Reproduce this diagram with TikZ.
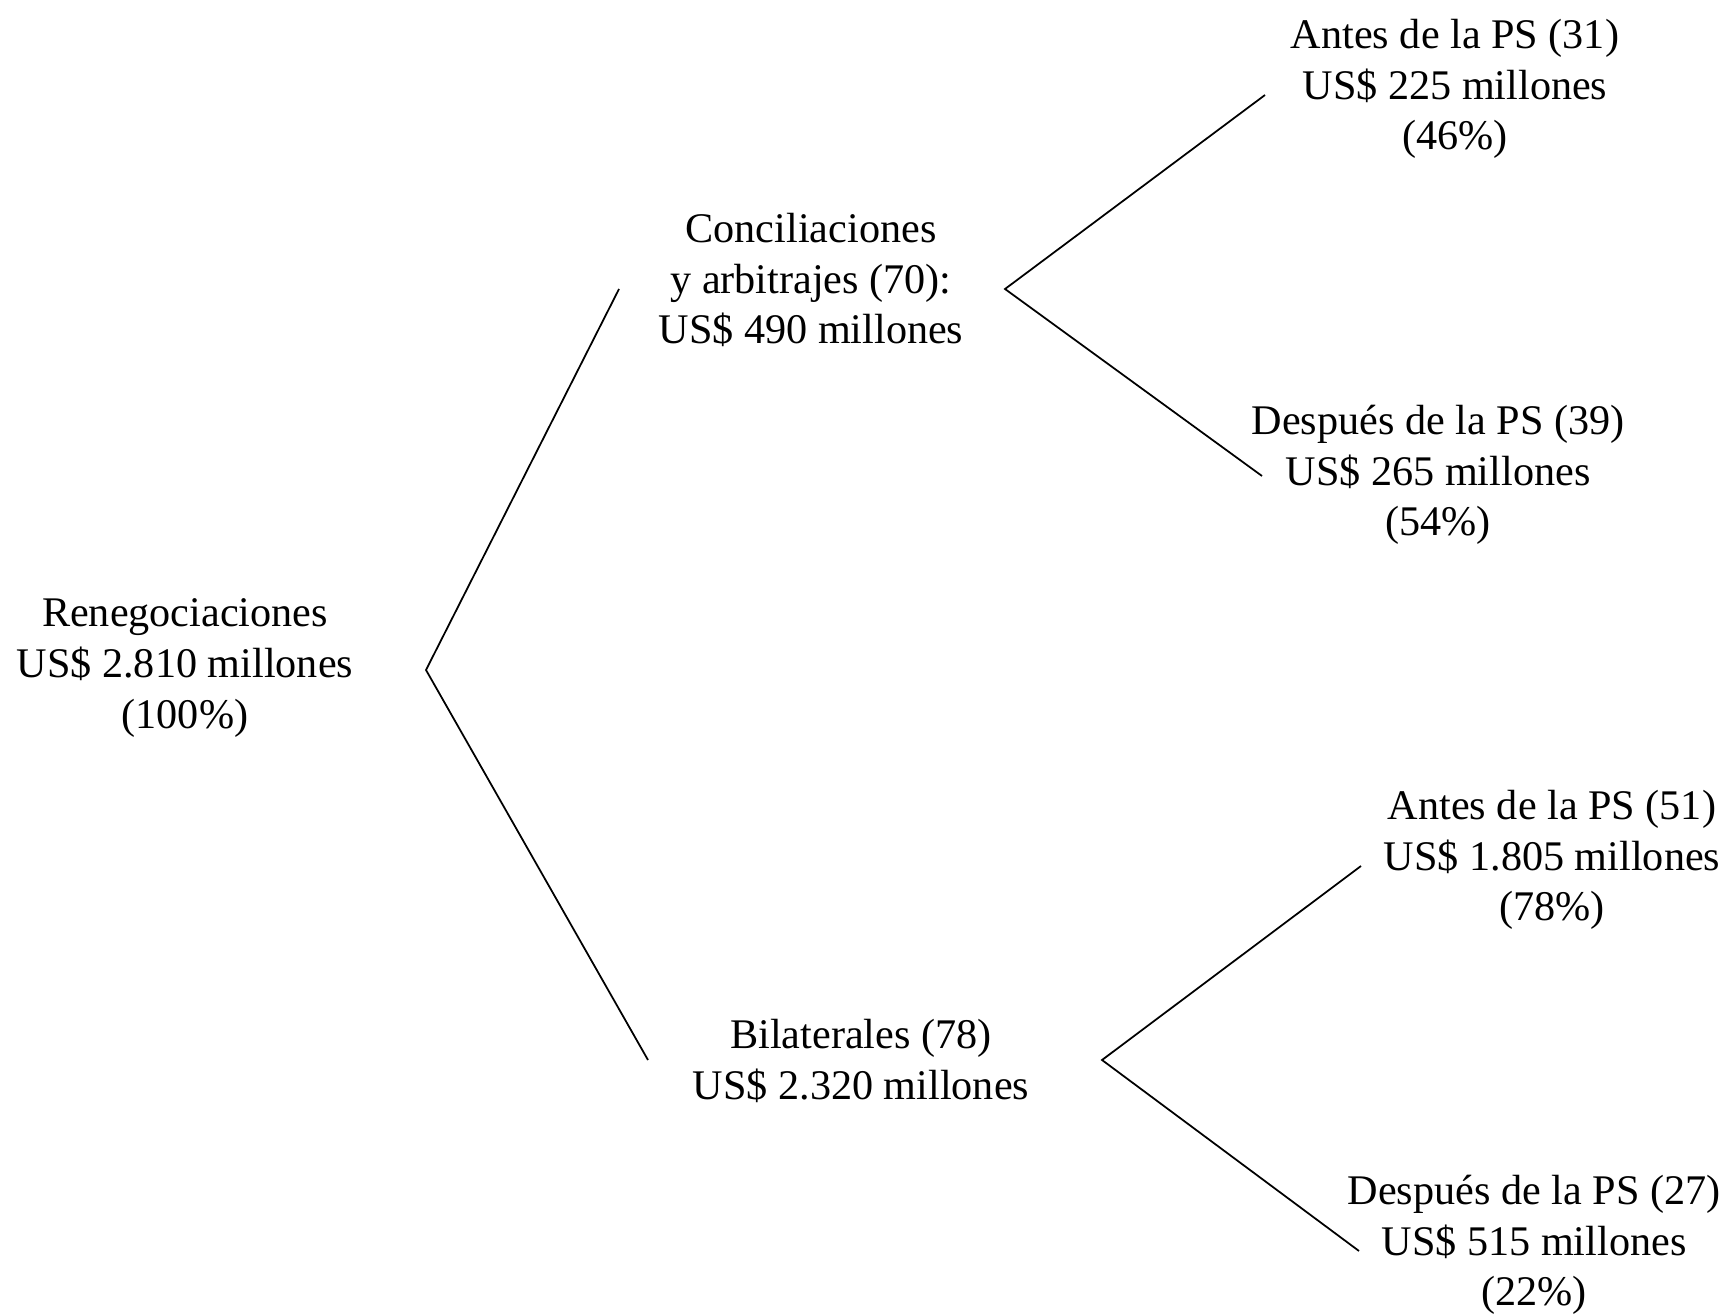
\documentclass[tikz,border=0pt]{standalone}
\usepackage{fontspec}
\setmainfont{Liberation Serif}
\usepackage{tikz}

\begin{document}
\begin{tikzpicture}[x=0.01cm, y=-0.01cm,
    txt/.style={align=center, inner sep=0pt, font=\fontsize{12}{14.4}\selectfont},
    branch/.style={line width=0.5pt}]
\useasboundingbox (0,0) rectangle (1728,1316);
% texts
\node[txt] (reneg) at (185,668) {Renegociaciones\\US\$ 2.810 millones\\(100\%)};
\node[txt] (concil) at (811,280) {Conciliaciones\\y arbitrajes (70):\\US\$ 490 millones};
\node[txt] (bilat) at (861,1061) {Bilaterales (78)\\US\$ 2.320 millones};
\node[txt] (antesA) at (1455,89) {Antes de la PS (31)\\US\$ 225 millones\\(46\%)};
\node[txt] (despA) at (1438,475) {Después de la PS (39)\\US\$ 265 millones\\(54\%)};
\node[txt] (antesB) at (1552,860) {Antes de la PS (51)\\US\$ 1.805 millones\\(78\%)};
\node[txt] (despB) at (1534,1245) {Después de la PS (27)\\US\$ 515 millones\\(22\%)};
% forks
\coordinate (renegfork) at (426,670);
\coordinate (concilin) at (619,289);
\coordinate (bilatin) at (648,1060);
\coordinate (concilfork) at (1005,289);
\coordinate (antesAin) at (1265,95);
\coordinate (despAin) at (1262,476);
\coordinate (bilatfork) at (1102,1060);
\coordinate (antesBin) at (1361,866);
\coordinate (despBin) at (1359,1251);
\draw[branch] (concilin) -- (renegfork) -- (bilatin);
\draw[branch] (antesAin) -- (concilfork) -- (despAin);
\draw[branch] (antesBin) -- (bilatfork) -- (despBin);
\end{tikzpicture}
\end{document}
